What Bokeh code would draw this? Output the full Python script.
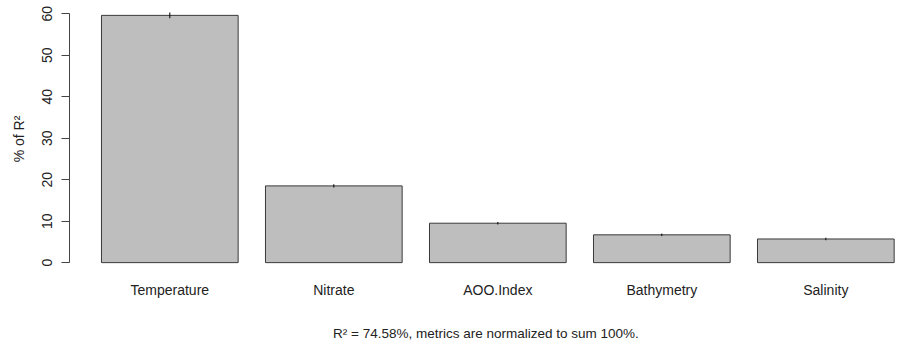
from bokeh.plotting import figure
from bokeh.models import ColumnDataSource, FixedTicker, Range1d
from bokeh.embed import file_html
from bokeh.resources import INLINE

categories = ["Temperature", "Nitrate", "AOO.Index", "Bathymetry", "Salinity"]
pct_r2 = [59.6, 18.5, 9.5, 6.7, 5.7]
ci_lower = [58.9, 18.1, 9.2, 6.4, 5.4]
ci_upper = [60.3, 18.9, 9.8, 7.0, 6.0]
y_ticks = [0, 10, 20, 30, 40, 50, 60]
caption = "R\u00b2 = 74.58%, metrics are normalized to sum 100%."

# R barplot geometry: width 1, space 0.2
centers = [0.7 + 1.2 * i for i in range(len(categories))]
lefts = [c - 0.5 for c in centers]
rights = [c + 0.5 for c in centers]

src = ColumnDataSource(dict(cat=categories, val=pct_r2, x=centers, left=lefts,
                            right=rights, lo=ci_lower, hi=ci_upper,
                            bottom=[0] * len(categories)))

FONT = "Liberation Sans"

p = figure(width=902, height=348, output_backend="svg", toolbar_location=None,
           x_range=Range1d(-0.034, 6.061), y_range=Range1d(-2.38, 61.98),
           min_border_left=69, min_border_right=0, min_border_top=5,
           min_border_bottom=76)
p.outline_line_color = None
p.grid.visible = False
p.background_fill_color = "white"
p.border_fill_color = "white"

p.quad(left="left", right="right", bottom="bottom", top="val", source=src,
       fill_color="#bebebe", line_color="#3a3a3a", line_width=1)
p.segment(x0="x", x1="x", y0="lo", y1="hi", source=src, line_color="black",
          line_width=1)

# y axis
ya = p.yaxis[0]
ya.ticker = FixedTicker(ticks=y_ticks)
ya.bounds = (0, 60)
ya.minor_tick_line_color = None
ya.major_tick_in = 0
ya.major_tick_out = 8
ya.axis_line_color = "#444444"
ya.major_tick_line_color = "#444444"
ya.major_label_orientation = "vertical"
ya.major_label_text_font = FONT
ya.major_label_text_font_size = "14px"
ya.major_label_text_color = "#222222"
ya.major_label_standoff = 9
ya.axis_label = "% of R\u00b2"
ya.axis_label_text_font = FONT
ya.axis_label_text_font_size = "14px"
ya.axis_label_text_font_style = "normal"
ya.axis_label_text_color = "#222222"
ya.axis_label_standoff = 13

# x axis: names only, caption as axis label
xa = p.xaxis[0]
xa.ticker = FixedTicker(ticks=centers)
xa.major_label_overrides = {c: n for c, n in zip(centers, categories)}
xa.axis_line_color = None
xa.major_tick_line_color = None
xa.minor_tick_line_color = None
xa.major_tick_in = 0
xa.major_tick_out = 0
xa.minor_tick_in = 0
xa.minor_tick_out = 0
xa.major_label_text_font = FONT
xa.major_label_text_font_size = "14px"
xa.major_label_text_color = "#222222"
xa.major_label_standoff = 9
xa.axis_label = caption
xa.axis_label_text_font = FONT
xa.axis_label_text_font_size = "13.5px"
xa.axis_label_text_font_style = "normal"
xa.axis_label_text_color = "#222222"
xa.axis_label_standoff = 25

open("out.html", "w").write(file_html(p, INLINE))
